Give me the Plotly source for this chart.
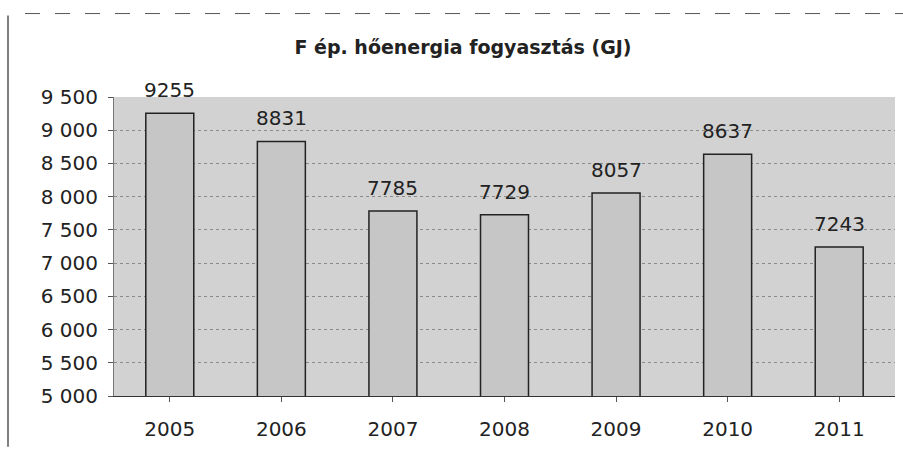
import plotly.graph_objects as go

years = ["2005", "2006", "2007", "2008", "2009", "2010", "2011"]
values = [9255, 8831, 7785, 7729, 8057, 8637, 7243]
y_ticks = [5000, 5500, 6000, 6500, 7000, 7500, 8000, 8500, 9000, 9500]
y_tick_labels = ["5 000", "5 500", "6 000", "6 500", "7 000", "7 500", "8 000", "8 500", "9 000", "9 500"]
title_text = "F ép. hőenergia fogyasztás (GJ)"

font = "DejaVu Sans, Arial, sans-serif"
W, H = 903, 449
L, R, T, B = 114, 8, 97, 51
pw, ph = W - L - R, H - T - B

fig = go.Figure()
fig.add_trace(go.Bar(
    x=years, y=values, width=0.43,
    marker=dict(color="#c6c6c6", line=dict(color="#222222", width=1.5)),
    cliponaxis=False,
))
for i, v in enumerate(values):
    fig.add_annotation(x=i, y=v, text=str(v), showarrow=False, yanchor="middle", yshift=23,
                       font=dict(family=font, size=20, color="#222222"))

fig.update_layout(
    width=W, height=H,
    margin=dict(l=L, r=R, t=T, b=B),
    paper_bgcolor="white",
    plot_bgcolor="#d2d2d2",
    showlegend=False,
    title=dict(text="<b>" + title_text + "</b>", x=463 / W, xanchor="center", y=1 - 47 / H, yanchor="middle",
               font=dict(family=font, size=19, color="#222222")),
)
fig.update_xaxes(
    type="category", range=[-0.5, len(years) - 0.5],
    showgrid=False, showline=True, linecolor="#333333", linewidth=1,
    ticks="outside", ticklen=5, tickcolor="#555555",
    tickfont=dict(family=font, size=20, color="#222222"),
    ticklabelstandoff=10,
)
fig.update_yaxes(
    range=[5000, 9500], tickvals=y_ticks, ticktext=y_tick_labels,
    showgrid=True, gridcolor="#8a8a8a", griddash="dot", gridwidth=1,
    showline=True, linecolor="#777777", linewidth=1,
    ticks="outside", ticklen=5, tickcolor="#555555",
    tickfont=dict(family=font, size=20, color="#222222"),
    ticklabelstandoff=6,
    zeroline=False,
)
# scanned page border lines
fig.add_shape(type="line", xref="paper", yref="paper", x0=-(L - 25) / pw, x1=1 + R / pw,
              y0=1 + (T - 13) / ph, y1=1 + (T - 13) / ph,
              line=dict(color="#555555", width=1, dash="longdash"))
fig.add_shape(type="line", xref="paper", yref="paper", x0=-(L - 8) / pw, x1=-(L - 8) / pw,
              y0=-B / ph, y1=1 + (T - 15) / ph,
              line=dict(color="#555555", width=1.5))

fig.write_html("out.html", config={"displayModeBar": False},
               post_script="document.body.style.margin='0';document.body.style.padding='0';")
